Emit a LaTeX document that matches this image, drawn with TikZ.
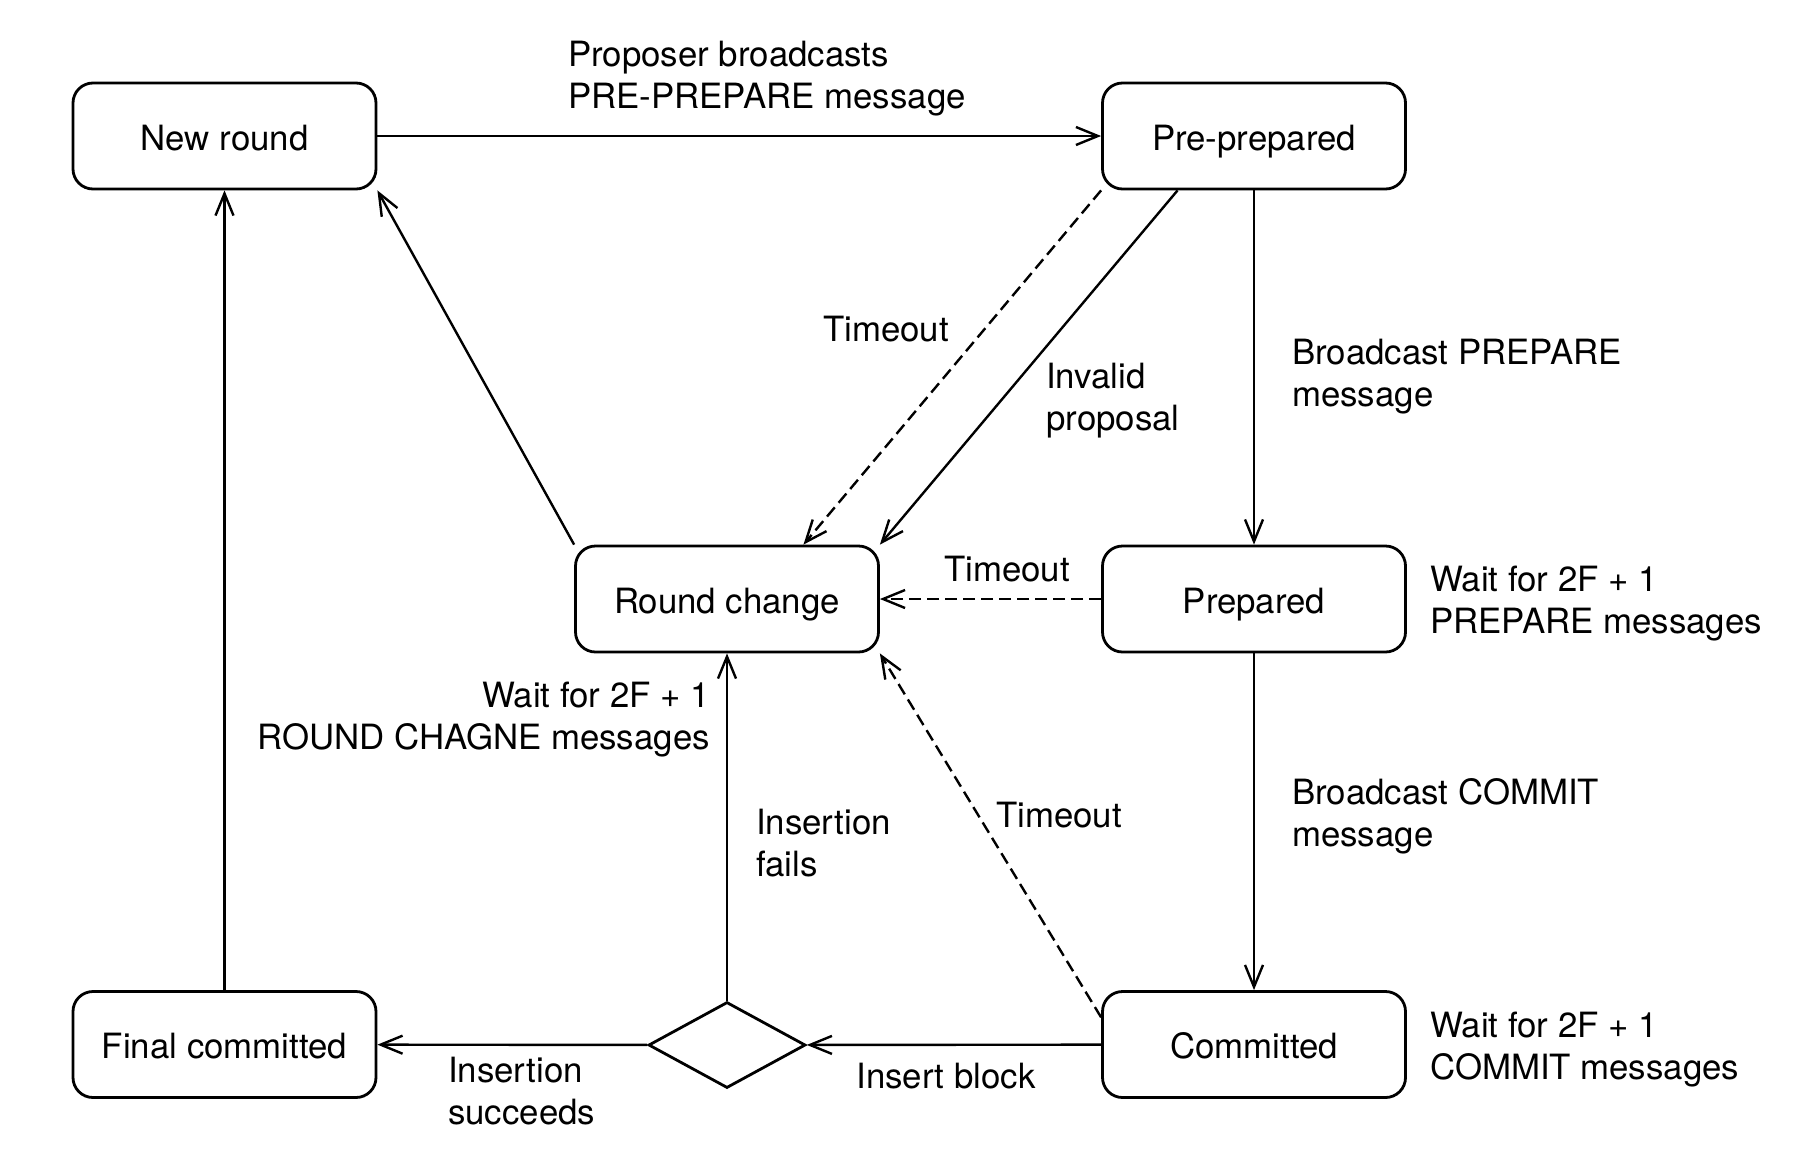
\documentclass[tikz,border=0pt]{standalone}
\usepackage{fontspec}
\setmainfont{TeX Gyre Heros}
\usepackage{tikz}
\usetikzlibrary{arrows.meta,positioning,shapes.geometric,calc}

\begin{document}
\begin{tikzpicture}[x=0.5pt,y=-0.5pt,->,>={Straight Barb[length=11pt,width=9pt]},
  line width=1.2pt,font=\fontsize{17.4}{21}\selectfont,
  state node/.style={rectangle,rounded corners=10pt,draw,line width=1.4pt,
    minimum width=151.5pt,minimum height=53pt,inner sep=0pt,
    text height=14pt,text depth=0pt},
  choice node/.style={diamond,draw,line width=1.4pt,aspect=1.83,
    minimum width=78.5pt,minimum height=43pt,inner sep=0pt},
  lbl/.style={inner sep=0pt,align=left},
  tmo/.style={dashed,dash pattern=on 6pt off 3pt}]

  \useasboundingbox (0,0) rectangle (1814,1162);

  \node[state node] (nr) at (224.5,136) {New round};
  \node[state node] (pp) [right of=nr,node distance=514.75pt] {Pre-prepared};
  \node[state node] (pd) [below of=pp,node distance=231.5pt] {Prepared};
  \node[state node] (cm) [below of=pd,node distance=222.75pt] {Committed};
  \node[state node] (rc) [left of=pd,node distance=263.5pt] {Round change};
  \node[choice node] (ch) [below of=rc,node distance=223pt] {};
  \node[state node] (fc) [left of=cm,node distance=514.75pt] {Final committed};

  % labels
  \node[lbl,anchor=west] (l1) at (567,79) {Proposer broadcasts\\PRE-PREPARE message};
  \node[lbl] (l2) at (886,329) {Timeout};
  \node[lbl,anchor=west] (l3) at (1045,401) {Invalid\\proposal};
  \node[lbl,anchor=west] (l4) at (1291,377) {Broadcast PREPARE\\message};
  \node[lbl] (l5) at (1007,569) {Timeout};
  \node[lbl,anchor=west] (l6) at (1429,604) {Wait for 2F + 1\\PREPARE messages};
  \node[lbl,anchor=east,align=right] (l7) at (711,720) {Wait for 2F + 1\\ROUND CHAGNE messages};
  \node[lbl,anchor=west] (l8) at (755,843) {Insertion\\fails};
  \node[lbl] (l9) at (1059,815) {Timeout};
  \node[lbl,anchor=west] (l10) at (1291,816) {Broadcast COMMIT\\message};
  \node[lbl,anchor=west] (l11) at (1429,1050) {Wait for 2F + 1\\COMMIT messages};
  \node[lbl] (l12) at (946,1076) {Insert block};
  \node[lbl,anchor=west] (l13) at (447,1091) {Insertion\\succeeds};

  \path
    (nr) edge (pp)
    (pp) edge (pd)
    (pd) edge (cm)
    (cm) edge (ch)
    (ch) edge (fc)
    (ch) edge (rc)
    (fc) edge (nr)
    (rc.north west) edge (nr.south east)
    (pp.south west) edge[tmo] ($(rc.north west)!0.75!(rc.north east)$)
    ($(pp.south west)!0.25!(pp.south east)$) edge (rc.north east)
    (pd) edge[tmo] (rc)
    ($(cm.north west)!0.25!(cm.south west)$) edge[tmo] (rc.south east);
\end{tikzpicture}
\end{document}
